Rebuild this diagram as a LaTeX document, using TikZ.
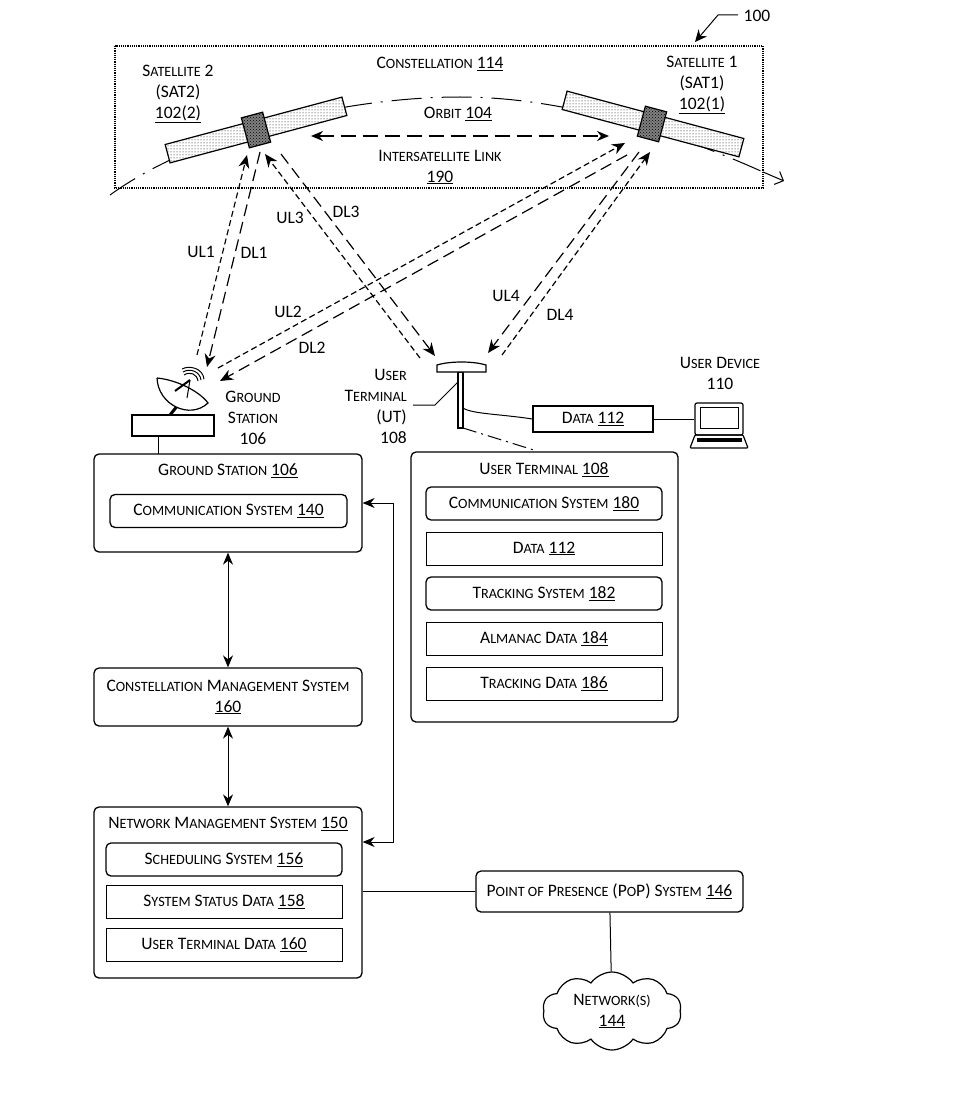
\documentclass[tikz,border=0pt]{standalone}
\usepackage{fontspec}
\setmainfont{Carlito}
\usetikzlibrary{arrows.meta,patterns,positioning,shapes.symbols}
\newcommand{\num}[1]{\underline{#1}}
\newcommand{\kap}[2]{#1{\fontsize{14.2}{21}\selectfont\MakeUppercase{#2}}}

\begin{document}
\begin{tikzpicture}[x=1pt,y=-1pt,
      every node/.style={font=\fontsize{17.5}{21}\selectfont, align=center, inner sep=0pt},
      box/.style={draw=black, line width=1.3pt, rounded corners=5pt, minimum width=268pt},
      item/.style={draw=black, line width=1.3pt, rounded corners=5pt, minimum width=236pt, minimum height=33pt},
      rect/.style={item, line width=1pt, rounded corners=0pt},
      pfeil/.style={<->, >={Stealth[length=12pt,width=10pt]}, line width=1pt},
      linie/.style={line width=1pt},
      funk/.style={->, >={Stealth[length=13pt,width=11pt]}, line width=1.2pt, dash pattern=on 6pt off 3.5pt},
      funklang/.style={funk, dash pattern=on 12pt off 6pt},
      panel/.style={draw=black, line width=1.2pt, pattern=dots, preaction={fill=white}, minimum width=183pt, minimum height=19pt},
      rumpf/.style={draw=black, line width=1.2pt, pattern=crosshatch dots, preaction={fill=black!50}, minimum width=22pt, minimum height=31pt}]

\useasboundingbox (0,0) rectangle (966,1094);

% constellation
\draw[line width=1.2pt, densely dotted] (115,46) rectangle (763,188);
\coordinate (orbA) at (110,195);
\coordinate (orbB) at (460,97);
\coordinate (orbD) at (763,172);
\coordinate (orbC) at (784,181);
\draw[line width=1pt, dash pattern=on 30pt off 9pt on 2pt off 9pt]
  (orbA) .. controls (200,130) and (350,97) .. (orbB) .. controls (560,97) and (670,130) .. (orbD);
\draw[line width=1pt, ->, >={Straight Barb[length=7pt,width=14pt]}] (orbD) -- (orbC);

\node[panel,rotate=15] (sat2p) at (256,130) {};
\node[rumpf,rotate=15] (sat2) at (256,130) {};
\node[panel,rotate=-15] (sat1p) at (653,124) {};
\node[rumpf,rotate=-15] (sat1) at (652,124) {};

\node (constl) at (440,64) {\kap{C}{onstellation} \num{114}};
\node (sat2l) at (178,94) {\kap{S}{atellite} 2\\(SAT2)\\\num{102(2)}};
\node (sat1l) at (702,85) {\kap{S}{atellite} 1\\(SAT1)\\\num{102(1)}};
\node (orbl) at (458,114) {\kap{O}{rbit} \num{104}};
\node (isll) at (440,167) {\kap{I}{ntersatellite} \kap{L}{ink}\\\num{190}};

\coordinate (islL) at (311,136);
\coordinate (islR) at (609,136);
\draw[pfeil, line width=1.4pt, dash pattern=on 15pt off 7pt] (islL) -- (islR);

% figure number
\node (fig) at (757,16) {100};
\coordinate (figS) at (738,15);
\coordinate (figA) at (718,15);
\coordinate (figB) at (695,42);
\draw[->, >={Stealth[length=12pt,width=11pt]}, line width=1pt] (figS) -- (figA) -- (figB);

% ground station
\node[draw=black, line width=1.2pt, minimum width=82pt, minimum height=21pt] (gsfuss) at (173,425.5) {};
\coordinate (stemA) at (170,415);
\coordinate (stemB) at (178,405);
\draw[line width=3pt] (stemA) -- (stemB);
\coordinate (dishA) at (157,378);
\coordinate (dishB) at (208,403);
\draw[line width=1.2pt, fill=white] (dishA) .. controls (158,405) and (190,420) .. (dishB)
  .. controls (200,392) and (178,380) .. (dishA);
\coordinate (feed) at (190,380);
\draw[line width=2pt] (175,391) -- (feed);
\draw[line width=1pt] (187,398) -- (feed);
\foreach \r in {0,3,6}
  \draw[line width=1pt] (184-\r*.3,375-\r) .. controls (190-\r*.2,371-\r) and (197+\r,374-\r) .. (198+\r,381-\r*.3);
\node (gsl) at (253,418) {\kap{G}{round}\\\kap{S}{tation}\\106};

% user terminal
\node[draw=black, line width=1.2pt, fill=white, minimum width=5pt, minimum height=56pt] (utmast) at (460.5,400) {};
\coordinate (domA) at (437,372);
\coordinate (domB) at (486,372);
\draw[line width=1.2pt, fill=white] (domA) -- (437,365) .. controls (450,361) and (473,361) .. (486,365) -- (domB) -- cycle;
\node[anchor=east, align=right] (utl) at (407,406) {\kap{U}{ser}\\\kap{T}{erminal}\\(UT)\\108};
\coordinate (utA) at (413,405);
\coordinate (utB) at (435,405);
\coordinate (utC) at (458,382);
\draw[linie] (utA) -- (utB) -- (utC);

\node[draw=black, line width=1.2pt, minimum width=120pt, minimum height=26pt] (dat) at (593,419) {\kap{D}{ata} \num{112}};
\coordinate (utK) at (463,408);
\draw[linie] (utK) .. controls (472,414) and (500,414) .. (dat.west);

% laptop
\node[draw=black, line width=1.2pt, rounded corners=2pt, minimum width=48pt, minimum height=32pt] (lap) at (719,419) {};
\node[draw=black, line width=1pt, minimum width=38pt, minimum height=21pt] (lapin) at (719,418) {};
\coordinate (lapA) at (695,435);
\coordinate (lapB) at (743,435);
\draw[line width=1.2pt, rounded corners=1pt] (lapA) -- (690,448) -- (748,448) -- (lapB) -- cycle;
\fill (697,438) rectangle (742,442);
\draw[linie] (dat.east) -- (lap.west);
\node (udl) at (720,373) {\kap{U}{ser} \kap{D}{evice}\\110};

% radio links
\coordinate (ul1a) at (197,355);
\coordinate (ul1b) at (247,155);
\coordinate (dl1a) at (260,152);
\coordinate (dl1b) at (207,367);
\coordinate (ul2a) at (218,368);
\coordinate (ul2b) at (625,143);
\coordinate (dl2a) at (627,155);
\coordinate (dl2b) at (220,381);
\coordinate (ul3a) at (420,358);
\coordinate (ul3b) at (265,154);
\coordinate (dl3a) at (281,154);
\coordinate (dl3b) at (435,356);
\coordinate (ul4a) at (502,355);
\coordinate (ul4b) at (650,152);
\coordinate (dl4a) at (639,152);
\coordinate (dl4b) at (488,353);
\draw[funk] (ul1a) -- (ul1b);
\draw[funklang] (dl1a) -- (dl1b);
\draw[funk] (ul2a) -- (ul2b);
\draw[funklang] (dl2a) -- (dl2b);
\draw[funk] (ul3a) -- (ul3b);
\draw[funklang] (dl3a) -- (dl3b);
\draw[funk] (ul4a) -- (ul4b);
\draw[funklang] (dl4a) -- (dl4b);
\node (ul1) at (201,252) {UL1};
\node (dl1) at (254,253) {DL1};
\node (ul2) at (288,312) {UL2};
\node (dl2) at (312,348) {DL2};
\node (ul3) at (290,218) {UL3};
\node (dl3) at (346,212) {DL3};
\node (ul4) at (506,296) {UL4};
\node (dl4) at (560,315) {DL4};

% left column
\node[box, minimum height=98pt] (gs) at (228,503) {};
\node (gst) at (228,471) {\kap{G}{round} \kap{S}{tation} \num{106}};
\node[item, minimum width=237pt] (gscom) at (228.5,511) {\kap{C}{ommunication} \kap{S}{ystem} \num{140}};
\coordinate (gsA) at (158,436);
\coordinate (gsB) at (158,454);
\draw[linie] (gsA) -- (gsB);

\node[box, minimum height=58pt] (cms) at (228,697) {\kap{C}{onstellation} \kap{M}{anagement} \kap{S}{ystem}\\\num{160}};

\node[box, minimum height=171pt] (nms) at (228,892.5) {};
\node (nmst) at (228,824) {\kap{N}{etwork} \kap{M}{anagement} \kap{S}{ystem} \num{150}};
\node[item] (sched) at (224,859.5) {\kap{S}{cheduling} \kap{S}{ystem} \num{156}};
\node[rect, node distance=42.5pt, below of=sched] (stat) {\kap{S}{ystem} \kap{S}{tatus} \kap{D}{ata} \num{158}};
\node[rect, node distance=42.5pt, below of=stat] (utd) {\kap{U}{ser} \kap{T}{erminal} \kap{D}{ata} \num{160}};

\draw[pfeil] (gs) -- (cms);
\draw[pfeil] (cms) -- (nms);
\coordinate (busA) at (393,503);
\coordinate (busB) at (393,842);
\draw[pfeil] (gs.east) -- (busA) -- (busB) -- (nms.east |- busB);

% user terminal block
\node[box, minimum width=267pt, minimum height=270pt] (ut) at (544.5,587) {};
\node (utt) at (544,470) {\kap{U}{ser} \kap{T}{erminal} \num{108}};
\node[item] (utcom) at (544,503.5) {\kap{C}{ommunication} \kap{S}{ystem} \num{180}};
\node[rect, node distance=45pt, below of=utcom] (utdat) {\kap{D}{ata} \num{112}};
\node[item, node distance=45pt, below of=utdat] (uttrk) {\kap{T}{racking} \kap{S}{ystem} \num{182}};
\node[rect, node distance=45pt, below of=uttrk] (utalm) {\kap{A}{lmanac} \kap{D}{ata} \num{184}};
\node[rect, node distance=45pt, below of=utalm] (uttd) {\kap{T}{racking} \kap{D}{ata} \num{186}};
\coordinate (utF) at (463,428);
\coordinate (utG) at (537,451);
\draw[linie, dash pattern=on 14pt off 5pt on 2pt off 5pt] (utF) -- (utG);

% pop and network
\node[box, minimum width=267pt, minimum height=41pt] (pop) at (609.5,891.5) {\kap{P}{oint of} \kap{P}{resence} (\kap{P}{o}P) \kap{S}{ystem} \num{146}};
\node[cloud, draw=black, line width=1.2pt, cloud puffs=10, cloud puff arc=110, aspect=1.8, minimum width=139pt, minimum height=78pt] (net) at (612,1011) {\kap{N}{etwork(s)}\\\num{144}};
\draw[linie] (nms.east |- pop) -- (pop);
\draw[linie] (pop) -- (net);

\end{tikzpicture}
\end{document}
